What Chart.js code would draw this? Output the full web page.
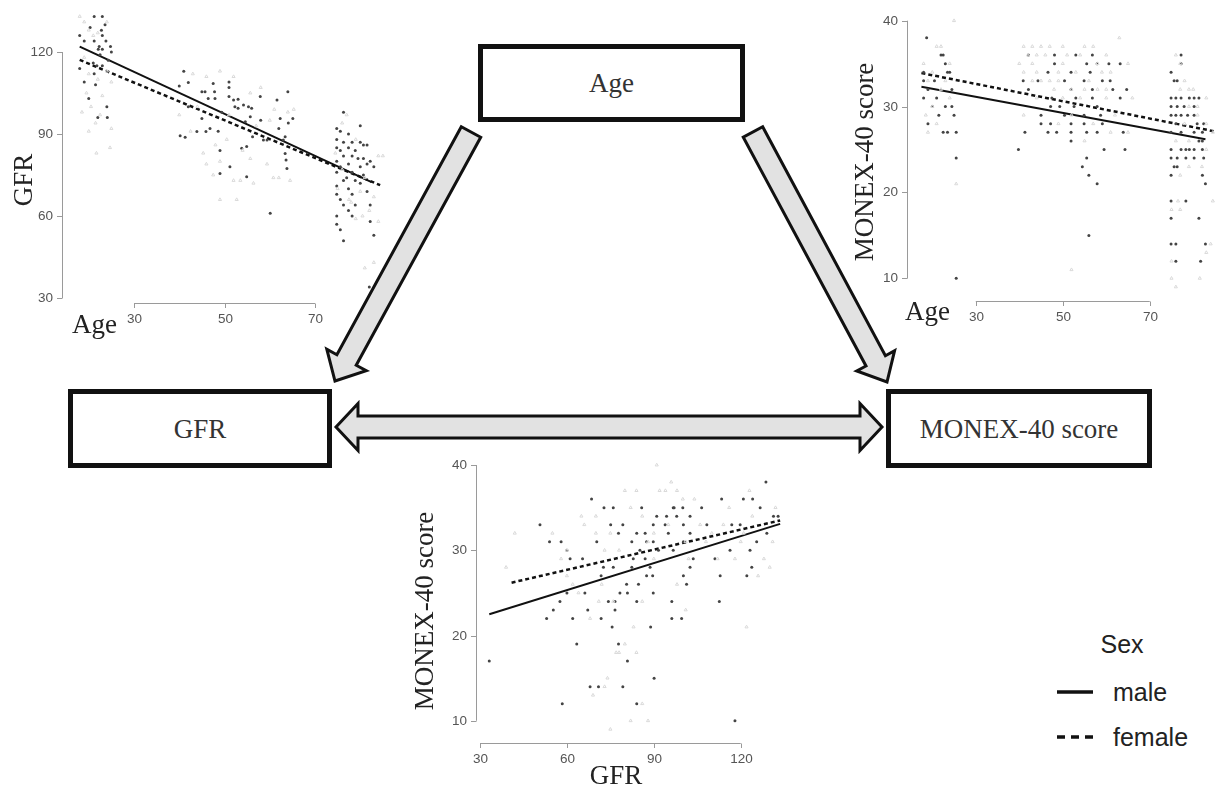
<!DOCTYPE html>
<html>
<head>
<meta charset="utf-8">
<script src="https://cdn.jsdelivr.net/npm/chart.js@4.4.1/dist/chart.umd.min.js"></script>
<style>
  body { margin: 0; background: #fff; }
  #page { position: relative; width: 1220px; height: 786px; overflow: hidden; background: #fff; }
  #page svg, #page canvas { position: absolute; left: 0; top: 0; }
</style>
</head>
<body>
<div id="page">
  <svg id="diagram" width="1220" height="786"></svg>
  <canvas id="chartAgeGfr" width="1220" height="786"></canvas>
  <canvas id="chartAgeMonex" width="1220" height="786"></canvas>
  <canvas id="chartGfrMonex" width="1220" height="786"></canvas>
</div>
<script>
// ---- data ----
var ageTicks = [30, 50, 70];
var gfrTicks = [30, 60, 90, 120];
var monexTicks = [10, 20, 30, 40];
var gfrXTicks = [30, 60, 90, 120];
var sexLabels = ['male', 'female'];

// age vs GFR (top left)
var ageGfrMale = [
  [18, 126], [18, 114], [19, 124], [19, 109], [20, 103], [20.3, 129], [21.2, 124], [21.2, 112], [21.5, 108], [22, 96],
  [22.3, 122], [22.8, 128], [23, 126], [23, 121], [23.6, 130], [23.8, 124], [24, 100], [24.1, 96], [24.3, 117], [24.8, 122],
  [25, 120], [21.2, 133], [23, 133], [22.1, 121], [22.5, 119], [21.8, 115], [23, 115], [21, 116],
  [40, 107.6], [40.2, 89.4], [41, 113], [41.3, 88.8], [42, 108.8], [42, 100], [43.9, 90.9], [45, 105.5], [45, 95.7], [45.7, 105.5],
  [45.9, 90.9], [46.4, 103], [46.8, 92], [47.5, 108.5], [47.8, 105.5], [47.9, 103], [49, 84], [49, 75.6], [48.6, 91], [49.4, 98],
  [51, 109], [51, 107], [51, 103.7], [51.2, 78], [52, 102.4], [52.3, 100], [53, 102.7], [53, 99.4], [53.8, 84.8], [54.2, 100.6],
  [54.6, 94.5], [54.9, 85.4], [54.9, 74.4], [55.3, 100], [55.7, 96.3], [56, 99.4], [56.2, 89], [57.9, 103.7], [58, 95], [58.6, 87.8],
  [59.4, 87.8], [60.1, 61], [61.6, 102.4], [62, 92], [62.3, 95.7], [63, 87.8], [63.4, 82.9], [63.6, 80.5], [63.8, 77.4], [64.1, 94],
  [64, 105.5], [65.1, 95.7], [63.4, 89],
  [74.8, 92], [74.8, 88], [74.8, 85], [74.8, 80], [74.8, 76], [74.8, 71], [74.8, 68], [74.8, 60], [74.8, 57], [75.6, 91],
  [75.6, 84], [75.6, 78], [75.6, 66], [75.6, 55], [76.3, 98], [76.3, 87], [76.3, 82], [76.3, 73], [76.3, 64], [76.3, 51],
  [77.4, 90], [77.4, 85], [77.4, 79], [77.4, 70], [77.4, 62], [78.2, 87], [78.2, 82], [78.2, 76], [78.2, 68], [78.9, 84],
  [78.9, 73], [78.9, 64], [80, 93], [80, 87], [80, 78], [80, 72], [80.7, 86], [80.7, 81], [80.7, 75], [81.5, 86],
  [81.5, 79], [81.5, 69], [82.2, 80], [82.2, 64], [82.2, 58], [83, 78], [83, 53], [78.2, 60], [77, 74], [79.5, 81],
  [82, 34]
];
var ageGfrFemale = [
  [18, 133], [19, 131], [20, 128], [21, 126], [22, 127], [24, 131], [19, 118], [20, 112], [22, 110], [24, 113],
  [25, 109], [18.5, 98], [20, 91], [21.5, 94], [22.5, 97], [21.7, 83], [24.7, 85], [25, 92], [23, 104], [19.5, 105], [20.5, 100],
  [40, 97], [42.5, 91], [45.3, 83], [46, 79], [47.5, 75], [49, 80], [49, 66], [50.5, 88], [52.7, 66], [53.5, 73],
  [55.7, 81], [56.4, 72], [59.4, 79], [60.8, 74], [62, 74], [64.5, 73], [43, 112], [46, 111], [49, 113], [52, 111],
  [55.7, 105], [58, 107], [61, 99], [64, 98], [65.3, 99], [52, 73], [54, 84], [48, 86], [44, 100], [57, 93], [60, 95], [51, 97],
  [74.5, 83], [75, 70], [76, 94], [77, 97], [78, 65], [79, 59], [80, 69], [81, 74], [82, 62], [83, 67],
  [84, 82], [85, 82], [81, 41], [83, 43], [76, 77], [79, 88], [80.5, 60], [84, 58], [77.5, 66]
];
var ageGfrFitMale = [[18, 122], [82.5, 72.4]];
var ageGfrFitFemale = [[18, 117.1], [84.4, 71.3]];

// age vs MONEX-40 score (top right)
var ageMonexMale = [
  [18.7, 38], [18, 31], [19, 28], [20.5, 33], [21, 31], [21.5, 29], [22, 36], [22.5, 36], [23, 35], [23.5, 34],
  [24, 34], [24.5, 32], [24.5, 30], [25, 29], [22.5, 27], [23.5, 27], [25.5, 27], [25.5, 24], [25.5, 10], [18, 33],
  [19, 32], [20, 30], [23, 30], [18, 34],
  [42.1, 36], [48.1, 36], [53, 36], [56.8, 36], [48.1, 35], [55.5, 35], [57.9, 35], [60.6, 35], [63.2, 35],
  [46.6, 34], [51.9, 34], [56.3, 34], [40.9, 33], [44.3, 33], [50.4, 33], [54.9, 33], [59.1, 33], [60.9, 33],
  [42.1, 32], [51.9, 32], [56.8, 32], [61.5, 32], [64.7, 32], [47.5, 31], [53, 31], [56.8, 31], [63.2, 31],
  [47.2, 30], [49.3, 30], [52.6, 30], [57.9, 30], [45, 29], [50.4, 29], [54.9, 29], [58.7, 29],
  [45, 28], [47.2, 28], [51.9, 28], [54.9, 28], [59.1, 28], [41.3, 27], [46.6, 27], [48.6, 27], [51.9, 27], [55.5, 27],
  [57.9, 27], [63.9, 27], [51.9, 26], [39.8, 25], [59.5, 25], [64.3, 25], [55.5, 24], [54.5, 23], [56, 22], [57.9, 21], [56, 15],
  [77.2, 36], [77.2, 35], [74.9, 34], [75.6, 33], [76.3, 33], [74.9, 31], [76, 31], [77.2, 31], [79.1, 31], [80.2, 31],
  [81.3, 31], [74.9, 30], [76.3, 30], [77.9, 30], [80.2, 30], [74.9, 29], [76, 29], [77.2, 29], [78.7, 29], [80.2, 29],
  [76, 28], [80.9, 28], [82.4, 28], [74.9, 27], [77.2, 27], [80.2, 27], [82.1, 27], [81.3, 26], [82.1, 26],
  [74.9, 25], [77.2, 25], [78.3, 25], [79.1, 25], [80.2, 25], [82.1, 25], [74.9, 24], [76.3, 24], [78.3, 24], [80.2, 24],
  [82.4, 24], [75.6, 23], [76.3, 23], [74.9, 22], [82.1, 22], [82.8, 21], [74.9, 19], [78.3, 19], [74.9, 17], [81.3, 17],
  [74.9, 14], [76, 14], [82.8, 14], [76, 12], [81.7, 12]
];
var ageMonexFemale = [
  [18, 35], [19, 33], [20, 34], [21, 37], [22, 37], [23, 33], [24, 31], [20, 30], [21, 28], [19, 27],
  [25, 40], [25.5, 21], [22, 32], [18.5, 29], [24, 35],
  [41, 37], [43, 37], [45, 37], [47, 37], [50, 37], [55, 37], [57, 37], [42, 36], [44, 36], [46, 36],
  [51, 36], [54, 36], [60, 36], [63, 38], [40, 35], [43, 35], [50, 35], [58, 35], [65, 35], [41, 34],
  [44, 34], [49, 34], [53, 34], [59, 34], [61, 34], [43, 33], [45, 33], [47, 33], [49, 33], [56, 33],
  [48, 32], [52, 32], [55, 32], [58, 32], [60, 32], [44, 31], [50, 31], [54, 31], [60, 31], [66, 31],
  [41, 29], [52, 29], [62, 29], [49, 28], [57, 28], [61, 27], [65, 27], [55, 26], [52, 11],
  [76, 36], [77, 35], [78, 33], [77, 32], [79, 32], [80, 32], [83, 31], [79, 30], [81, 30], [81, 29],
  [78, 28], [83, 28], [84.5, 27], [76, 26], [79, 26], [83, 25], [79, 23], [82, 23], [77, 22], [76.5, 19],
  [75, 18], [77, 18], [84, 14], [83, 13], [75, 12], [75, 10], [81.5, 10], [76, 9], [84.5, 19]
];
var ageMonexFitMale = [[17.5, 32.3], [82.8, 26.2]];
var ageMonexFitFemale = [[17.5, 33.9], [85, 27.1]];

// GFR vs MONEX-40 score (bottom)
var gfrMonexMale = [
  [128.7, 38], [68.5, 36], [113.4, 36], [120.9, 36], [124.1, 36],
  [72.8, 35], [76, 35], [85.8, 35], [96.7, 35], [97, 35], [100, 35], [106.5, 35], [126.7, 35],
  [91, 34], [94.4, 34], [97.9, 34], [102.5, 34], [131.3, 34], [132.9, 34],
  [50.7, 33], [75.1, 33], [79.3, 33], [89.8, 33], [93.9, 33], [100.2, 33], [108.3, 33], [116.9, 33], [119.8, 33],
  [77.8, 32], [84.1, 32], [87, 32], [95, 32], [102.5, 32], [129, 32],
  [54, 31], [58, 31], [70.3, 31], [82.4, 31], [87.5, 31], [89.8, 31], [100.2, 31], [125.5, 31],
  [60, 30], [85.2, 30], [91.6, 30], [96.7, 30], [116.3, 30], [123.2, 30],
  [61.1, 29], [65.4, 29], [82.9, 29], [87, 29], [103.6, 29], [111.1, 29],
  [72.6, 28], [76, 28], [82.4, 28], [88.7, 28], [102.5, 28], [123.8, 28],
  [71.8, 27], [87.5, 27], [89.6, 27], [100.2, 27], [112.9, 27], [122.1, 27],
  [80.6, 26], [84.7, 26], [101.3, 26],
  [60, 25], [66.2, 25], [78.3, 25], [80.9, 25], [89.8, 25],
  [57.6, 24], [74.3, 24], [76.6, 24], [84.1, 24], [96.2, 24], [112.6, 24],
  [55.3, 23], [67.2, 23], [76.6, 23], [53, 22], [62, 22], [71.8, 22], [96.2, 22], [99.6, 22],
  [75.6, 21], [88.9, 21], [63.4, 19], [77.8, 19], [33.2, 17], [80.9, 17], [90.1, 15],
  [68, 14], [70.9, 14], [79.3, 14], [58.4, 12], [84.1, 12], [118, 10]
];
var gfrMonexFemale = [
  [42, 32], [39, 28], [60, 30], [62, 26], [55, 32], [58, 29], [65, 34], [66, 33], [70, 32], [73, 30],
  [75, 32], [78, 30], [82, 35], [80, 37], [84, 37], [86, 34], [88, 31], [90, 32], [92, 37], [94, 37],
  [95, 33], [98, 37], [100, 36], [101, 31], [102, 29], [104, 36], [106, 33], [108, 31], [110, 32], [112, 29],
  [114, 33], [116, 35], [118, 29], [120, 31], [121, 32], [123, 37], [124, 34], [126, 27], [128, 29], [130, 28],
  [131, 31], [132, 35], [96, 38], [91, 40], [70, 34], [64, 25], [68, 22], [72, 26], [76, 24], [78, 18],
  [80, 19], [77, 18], [84, 18], [88, 10], [86, 12], [82, 10], [74, 15], [75, 9], [73, 14], [69, 13],
  [122, 21], [101, 23], [83, 21], [86, 24], [98, 26], [90, 29], [60, 27], [71, 24]
];
var gfrMonexFitMale = [[33.2, 22.5], [133.6, 33.1]];
var gfrMonexFitFemale = [[40.9, 26.2], [133.6, 33.5]];

// ---- helpers ----
function toXY (pairs) {
  return pairs.map(function (p) { return { x: p[0], y: p[1] }; });
}

function makeDatasets (male, female, fitMale, fitFemale) {
  return [
    {
      label: sexLabels[1] + ' points',
      data: toXY(female),
      pointStyle: 'triangle',
      pointRadius: 1.8,
      borderWidth: 1,
      borderColor: '#dadada',
      backgroundColor: 'rgba(0,0,0,0)'
    },
    {
      label: sexLabels[0] + ' points',
      data: toXY(male),
      pointStyle: 'circle',
      pointRadius: 1.5,
      borderWidth: 0,
      backgroundColor: '#444'
    },
    {
      label: sexLabels[0],
      data: toXY(fitMale),
      showLine: true,
      pointRadius: 0,
      borderColor: '#111',
      borderWidth: 2
    },
    {
      label: sexLabels[1],
      data: toXY(fitFemale),
      showLine: true,
      pointRadius: 0,
      borderColor: '#111',
      borderWidth: 2.5,
      borderDash: [4, 3]
    }
  ];
}

// draws R-style detached axes with the chart's own scales
var baseAxes = {
  id: 'baseAxes',
  afterDraw: function (chart, args, opts) {
    const ctx = chart.ctx;
    const xs = chart.scales.x;
    const ys = chart.scales.y;
    ctx.save();
    ctx.strokeStyle = '#9a9a9a';
    ctx.lineWidth = 1;
    ctx.fillStyle = '#555';
    ctx.font = '13.5px "Liberation Sans", Arial, sans-serif';

    // y axis
    let yTop = ys.getPixelForValue(opts.yTicks[opts.yTicks.length - 1]);
    let yBot = ys.getPixelForValue(opts.yTicks[0]);
    ctx.beginPath();
    ctx.moveTo(opts.yAxisX + 0.5, yTop);
    ctx.lineTo(opts.yAxisX + 0.5, yBot);
    ctx.stroke();
    ctx.textAlign = 'right';
    ctx.textBaseline = 'middle';
    for (let i = 0; i < opts.yTicks.length; i++) {
      let py = Math.round(ys.getPixelForValue(opts.yTicks[i])) + 0.5;
      ctx.beginPath();
      ctx.moveTo(opts.yAxisX - 5, py);
      ctx.lineTo(opts.yAxisX + 0.5, py);
      ctx.stroke();
      ctx.fillText(String(opts.yTicks[i]), opts.yAxisX - 9, py);
    }

    // x axis
    let xL = xs.getPixelForValue(opts.xTicks[0]);
    let xR = xs.getPixelForValue(opts.xTicks[opts.xTicks.length - 1]);
    ctx.beginPath();
    ctx.moveTo(xL, opts.xAxisY + 0.5);
    ctx.lineTo(xR, opts.xAxisY + 0.5);
    ctx.stroke();
    ctx.textAlign = 'center';
    for (let i = 0; i < opts.xTicks.length; i++) {
      let px = Math.round(xs.getPixelForValue(opts.xTicks[i])) + 0.5;
      ctx.beginPath();
      ctx.moveTo(px, opts.xAxisY + 0.5);
      ctx.lineTo(px, opts.xAxisY + 5);
      ctx.stroke();
      ctx.fillText(String(opts.xTicks[i]), px, opts.xAxisY + 16);
    }

    // titles
    ctx.fillStyle = '#222';
    ctx.font = '27px "Liberation Serif", "Times New Roman", serif';
    ctx.textBaseline = 'alphabetic';
    ctx.textAlign = opts.xTitleAlign;
    ctx.fillText(opts.xTitle, opts.xTitlePos[0], opts.xTitlePos[1]);
    ctx.translate(opts.yTitlePos[0], opts.yTitlePos[1]);
    ctx.rotate(-Math.PI / 2);
    ctx.textAlign = 'center';
    ctx.fillText(opts.yTitle, 0, 0);
    ctx.restore();
  }
};

function makeChart (id, datasets, xRange, yRange, padding, axes) {
  return new Chart(document.getElementById(id), {
    type: 'scatter',
    data: { datasets: datasets },
    options: {
      responsive: false,
      animation: false,
      devicePixelRatio: 1,
      events: [],
      layout: { padding: padding },
      scales: {
        x: { type: 'linear', min: xRange[0], max: xRange[1], display: false },
        y: { type: 'linear', min: yRange[0], max: yRange[1], display: false }
      },
      plugins: {
        legend: { display: false },
        tooltip: { enabled: false },
        baseAxes: axes
      }
    },
    plugins: [baseAxes]
  });
}

// ---- boxes, arrows, legend ----
function arrowPoints (x1, y1, x2, y2, shaft, head, headLen, both) {
  const dx = x2 - x1;
  const dy = y2 - y1;
  const len = Math.sqrt(dx * dx + dy * dy);
  const ux = dx / len;
  const uy = dy / len;
  const nx = -uy;
  const ny = ux;
  const s = shaft / 2;
  const h = head / 2;
  const b2 = [x2 - ux * headLen, y2 - uy * headLen];
  let pts = [];
  function add (p, k) { pts.push((p[0] + nx * k).toFixed(1) + ',' + (p[1] + ny * k).toFixed(1)); }
  if (both) {
    const b1 = [x1 + ux * headLen, y1 + uy * headLen];
    add([x1, y1], 0); add(b1, h); add(b1, s); add(b2, s); add(b2, h);
    add([x2, y2], 0); add(b2, -h); add(b2, -s); add(b1, -s); add(b1, -h);
  } else {
    add([x1, y1], s); add(b2, s); add(b2, h); add([x2, y2], 0);
    add(b2, -h); add(b2, -s); add([x1, y1], -s);
  }
  return pts.join(' ');
}

function drawDiagram () {
  const svg = document.getElementById('diagram');
  let out = '';
  const arrows = [
    [471, 132, 335, 381, 22, 45, 24, false],
    [753, 132, 887, 382, 22, 43, 24, false],
    [336, 427, 882, 427, 22, 47, 22, true]
  ];
  for (let i = 0; i < arrows.length; i++) {
    const a = arrows[i];
    out += '<polygon points="' + arrowPoints(a[0], a[1], a[2], a[3], a[4], a[5], a[6], a[7]) +
      '" fill="#e2e2e2" stroke="#111" stroke-width="3" stroke-linejoin="miter"/>';
  }
  const boxes = [
    [480.5, 46.5, 262, 73, 'Age'],
    [70.5, 391.5, 259, 74, 'GFR'],
    [888.5, 391.5, 261, 74, 'MONEX-40 score']
  ];
  for (let i = 0; i < boxes.length; i++) {
    const b = boxes[i];
    out += '<rect x="' + b[0] + '" y="' + b[1] + '" width="' + b[2] + '" height="' + b[3] +
      '" fill="#fff" stroke="#111" stroke-width="5"/>';
    out += '<text x="' + (b[0] + b[2] / 2) + '" y="' + (b[1] + b[3] / 2 + 9) +
      '" text-anchor="middle" font-family="Liberation Serif, Times New Roman, serif" font-size="27" fill="#333">' + b[4] + '</text>';
  }
  // legend
  const sans = 'Liberation Sans, Arial, sans-serif';
  out += '<text x="1122" y="653" text-anchor="middle" font-family="' + sans + '" font-size="25" fill="#222">Sex</text>';
  out += '<line x1="1057" y1="692" x2="1093" y2="692" stroke="#111" stroke-width="3.5"/>';
  out += '<text x="1113" y="701" font-family="' + sans + '" font-size="25" fill="#222">' + sexLabels[0] + '</text>';
  out += '<line x1="1057" y1="737" x2="1093" y2="737" stroke="#111" stroke-width="3.5" stroke-dasharray="8,6"/>';
  out += '<text x="1113" y="746" font-family="' + sans + '" font-size="25" fill="#222">' + sexLabels[1] + '</text>';
  svg.innerHTML = out;
}

drawDiagram();

makeChart('chartAgeGfr',
  makeDatasets(ageGfrMale, ageGfrFemale, ageGfrFitMale, ageGfrFitFemale),
  [16, 86], [28, 135],
  { left: 70.65, right: 832.6, top: 11, bottom: 482.5 },
  { yAxisX: 62, xAxisY: 303, yTicks: gfrTicks, xTicks: ageTicks,
    xTitle: 'Age', xTitleAlign: 'left', xTitlePos: [72, 333],
    yTitle: 'GFR', yTitlePos: [32, 180] });

makeChart('chartAgeMonex',
  makeDatasets(ageMonexMale, ageMonexFemale, ageMonexFitMale, ageMonexFitFemale),
  [16, 85], [8, 41],
  { left: 914.9, right: 0.5, top: 12.1, bottom: 490.5 },
  { yAxisX: 907, xAxisY: 301, yTicks: monexTicks, xTicks: ageTicks,
    xTitle: 'Age', xTitleAlign: 'left', xTitlePos: [905, 320],
    yTitle: 'MONEX-40 score', yTitlePos: [873, 162] });

makeChart('chartGfrMonex',
  makeDatasets(gfrMonexMale, gfrMonexFemale, gfrMonexFitMale, gfrMonexFitFemale),
  [31, 135], [8, 41],
  { left: 482.9, right: 435.8, top: 456.5, bottom: 48.2 },
  { yAxisX: 476, xAxisY: 743, yTicks: monexTicks, xTicks: gfrXTicks,
    xTitle: 'GFR', xTitleAlign: 'center', xTitlePos: [616, 784],
    yTitle: 'MONEX-40 score', yTitlePos: [433, 611] });
</script>
</body>
</html>
